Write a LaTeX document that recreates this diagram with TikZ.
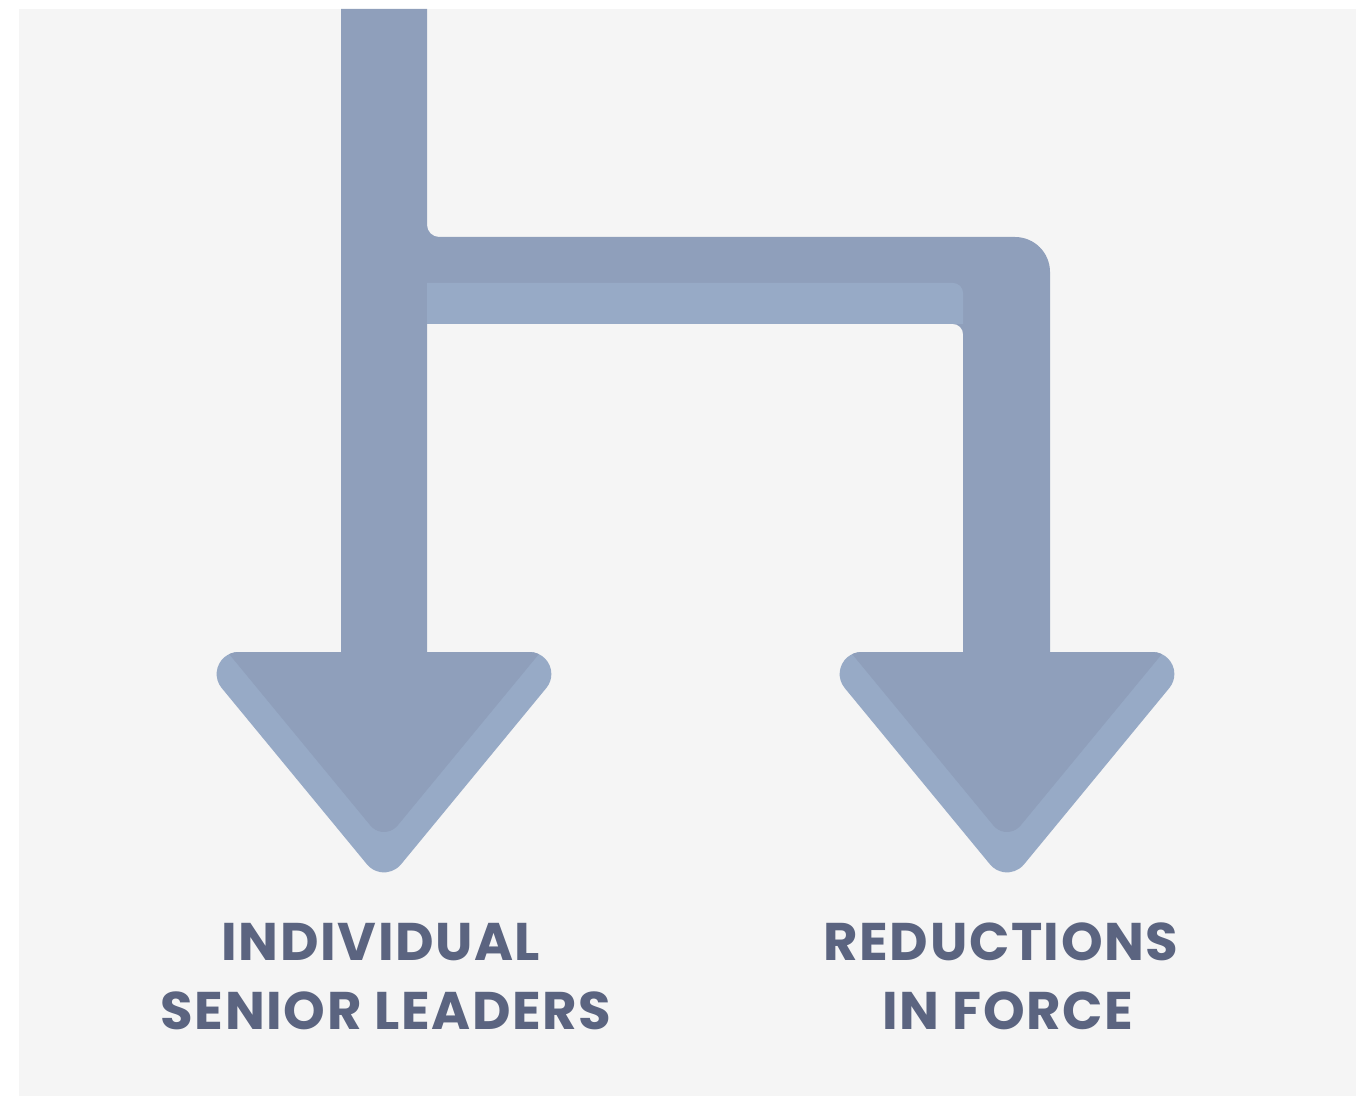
\documentclass[tikz,border=0pt]{standalone}
\usepackage{fontspec}
\setmainfont{Poppins}
\definecolor{bgc}{HTML}{F5F5F5}
\definecolor{darkc}{HTML}{8F9FBB}
\definecolor{lightc}{HTML}{97AAC6}
\definecolor{textc}{HTML}{5B6480}
\tikzset{
  darkfill/.style={fill=darkc, draw=none},
  lightfill/.style={fill=lightc, draw=none},
  lbl/.style={anchor=base, inner sep=0pt, text=textc,
    font=\fontsize{53}{60}\selectfont\bfseries\addfontfeatures{LetterSpace=3}},
}
\begin{document}
\begin{tikzpicture}[x=1pt,y=1pt]
\useasboundingbox (0,0) rectangle (1356,1096);
\fill[bgc] (19,0) rectangle (1356,1087);
% main stems and bar
\fill[darkfill] (341,1087) -- (427,1087) -- (427,871)
  arc[start angle=180, end angle=270, radius=12pt] -- (1015,859)
  arc[start angle=90, end angle=0, radius=35pt] -- (1050,444) -- (963,444) -- (963,762)
  arc[start angle=0, end angle=90, radius=10pt] -- (427,772) -- (427,444) -- (341,444) -- cycle;
% lighter band under the bar
\fill[lightfill] (427,772) -- (963,772) -- (963,803)
  arc[start angle=0, end angle=90, radius=10pt] -- (427,813) -- cycle;
% arrowheads
\foreach \cx in {384, 1007} {
  \fill[lightfill] (\cx-145.36,444) -- (\cx+145.36,444)
    arc[start angle=90, end angle=-39.5, radius=22pt] -- (\cx+16.98,231.6)
    arc[start angle=-39.5, end angle=-140.5, radius=22pt] -- (\cx-162.34,408)
    arc[start angle=219.5, end angle=90, radius=22pt] -- cycle;
  \begin{scope}
    \clip (0,0) rectangle (1356,444);
    \clip (\cx-145.36,444) -- (\cx+145.36,444)
      arc[start angle=90, end angle=-39.5, radius=22pt] -- (\cx+16.98,231.6)
      arc[start angle=-39.5, end angle=-140.5, radius=22pt] -- (\cx-162.34,408)
      arc[start angle=219.5, end angle=90, radius=22pt] -- cycle;
    \fill[darkfill] (\cx-285.1,600) -- (\cx+285.1,600) -- (\cx+13.5,270.37)
      arc[start angle=-39.5, end angle=-140.5, radius=17.5pt] -- cycle;
  \end{scope}
}
% labels
\node[lbl] (l1a) at (381,136) {INDIVIDUAL};
\node[lbl] (l1b) at (386,67) {SENIOR LEADERS};
\node[lbl] (l2a) at (1001,136) {REDUCTIONS};
\node[lbl] (l2b) at (1008,67) {IN FORCE};
\end{tikzpicture}
\end{document}
